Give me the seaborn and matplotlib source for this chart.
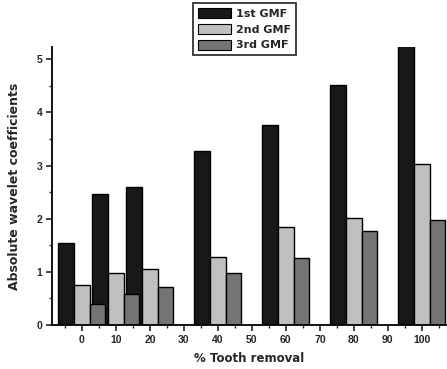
import numpy as np
import pandas as pd
import matplotlib
matplotlib.use("Agg")
import matplotlib.pyplot as plt
from matplotlib.ticker import MultipleLocator
import seaborn as sns

# Tooth removal levels (%) and wavelet coefficient magnitudes per gear mesh harmonic
removal = [0, 10, 20, 40, 60, 80, 100]
gmf_1st = [1.55, 2.47, 2.60, 3.28, 3.77, 4.51, 5.26]
gmf_2nd = [0.76, 0.98, 1.06, 1.28, 1.85, 2.02, 3.03]
gmf_3rd = [0.39, 0.58, 0.72, 0.97, 1.27, 1.77, 1.97]
series_names = ["1st GMF", "2nd GMF", "3rd GMF"]
x_ticks = [0, 10, 20, 30, 40, 50, 60, 70, 80, 90, 100]

df = pd.DataFrame({
    "removal": removal * 3,
    "value": gmf_1st + gmf_2nd + gmf_3rd,
    "harmonic": np.repeat(series_names, len(removal)),
})

sns.set_style("white")
plt.rcParams["font.family"] = ["Liberation Sans", "DejaVu Sans"]
plt.rcParams["font.weight"] = "bold"
label_font = ["DejaVu Sans"]

fig = plt.figure(figsize=(4.47, 3.69), dpi=100)
ax = fig.add_axes([0.1163, 0.1192, 0.8837, 0.7534])

palette = {"1st GMF": "#181818", "2nd GMF": "#c0c0c0", "3rd GMF": "#747474"}
sns.barplot(data=df, x="removal", y="value", hue="harmonic",
            hue_order=series_names, palette=palette, native_scale=True,
            dodge=True, width=1.38, saturation=1, edgecolor="black",
            linewidth=1.0, ax=ax, legend=False, errorbar=None)

ax.set_xlim(-8.8, 107.4)
ax.set_ylim(0, 5.23)
ax.set_xticks(x_ticks)
ax.set_xticklabels([str(t) for t in x_ticks])
ax.xaxis.set_minor_locator(MultipleLocator(5))
ax.set_yticks([0, 1, 2, 3, 4, 5])
ax.yaxis.set_minor_locator(MultipleLocator(0.5))

for side in ["top", "right"]:
    ax.spines[side].set_visible(False)
for side in ["left", "bottom"]:
    ax.spines[side].set_linewidth(1.3)
    ax.spines[side].set_color("black")

ax.tick_params(axis="both", which="major", direction="out", length=4,
               width=1.2, labelsize=7.5, pad=3, bottom=True, left=True)
ax.tick_params(axis="both", which="minor", direction="out", length=2,
               width=1.0, bottom=True, left=True)
for lab in ax.get_xticklabels() + ax.get_yticklabels():
    lab.set_fontweight("bold")

ax.set_xlabel("% Tooth removal", fontsize=8.5, fontweight="bold",
              family=label_font, labelpad=5)
ax.set_ylabel("Absolute wavelet coefficients", fontsize=9,
              fontweight="bold", family=label_font, labelpad=11)

handles = [plt.Rectangle((0, 0), 1, 1, facecolor=palette[n], edgecolor="black",
                         linewidth=0.8) for n in series_names]
leg = fig.legend(handles, series_names, loc="upper left",
                 bbox_to_anchor=(193 / 447, 1 - 3 / 369), frameon=True,
                 fancybox=False, prop={"family": label_font, "size": 8,
                                       "weight": "bold"},
                 handlelength=3.0, handleheight=1.0, handletextpad=0.4,
                 labelspacing=0.45, borderpad=0.45, borderaxespad=0)
leg.get_frame().set_edgecolor("black")
leg.get_frame().set_linewidth(1.3)

fig.savefig("out.png", dpi=100)
